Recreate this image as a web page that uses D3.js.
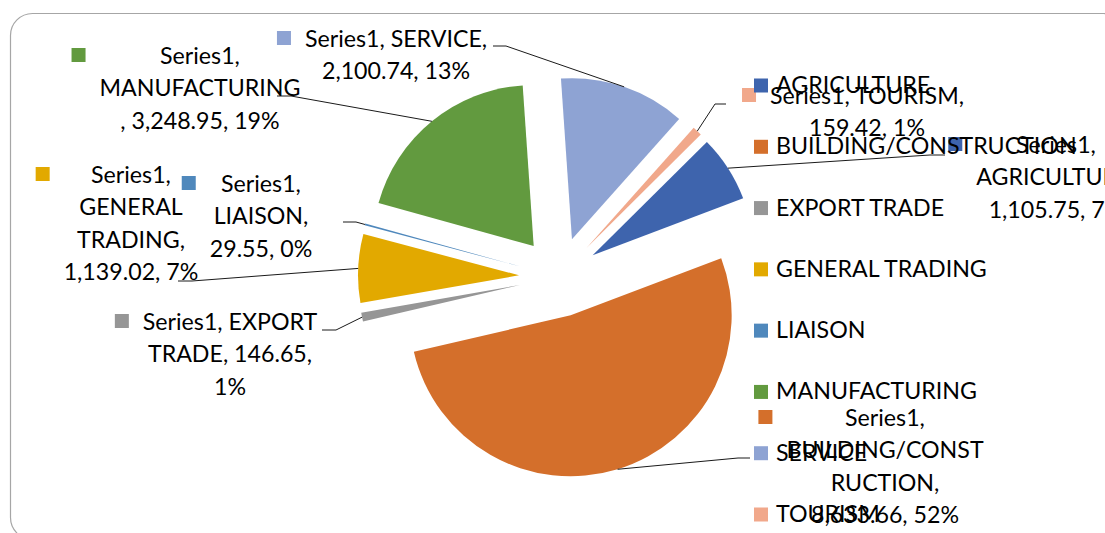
<!DOCTYPE html>
<html lang="en">
<head>
    <meta charset="UTF-8">
    <title>Pie</title>
    <script src="https://d3js.org/d3.v7.min.js"></script>
    <style>
        body { margin: 0; background: #fff; }
        text { font-family: Lato, "Open Sans", sans-serif; font-size: 23.2px; fill: #000; }
    </style>
</head>
<body>
<script>
    const width = 1105;
    const height = 533;

    const seriesName = "Series1";
    const categories = ["AGRICULTURE", "BUILDING/CONSTRUCTION", "EXPORT TRADE", "GENERAL TRADING",
                        "LIAISON", "MANUFACTURING", "SERVICE", "TOURISM"];
    const values = [1105.75, 8633.66, 146.65, 1139.02, 29.55, 3248.95, 2100.74, 159.42];
    const shares = [7, 52, 1, 7, 0, 19, 13, 1];   // percentages as printed on the chart
    const colors = ["#3e64ad", "#d46f2b", "#969696", "#e2a900", "#4f88bc", "#629a3f", "#8ea3d3", "#f1a88b"];

    // where each data label sits, where its text wraps, and where its leader line goes
    const labelLayout = [
        {cx: 1056, y: 153, breaks: [8, 21],      leader: [[930, 155], [945, 155]]},
        {cx: 885,  y: 426, breaks: [8, 23, 31],  leader: [[738, 458], [750, 458]]},
        {cx: 230,  y: 330, breaks: [15, 30],     leader: [[336, 330], [322, 330]]},
        {cx: 131,  y: 183, breaks: [8, 16, 25],  leader: [[192, 281], [178, 281]]},
        {cx: 261,  y: 192, breaks: [8, 17],      leader: [[356, 222], [343, 222]]},
        {cx: 200,  y: 64,  breaks: [8, 22],      leader: [[291, 96], [277, 96]]},
        {cx: 396,  y: 47,  breaks: [17],         leader: [[506, 46], [493, 46]]},
        {cx: 867,  y: 104, breaks: [17],         leader: [[715, 104], [726, 104]]}
    ];

    const center = [559, 277];
    const radius = 161;
    const explode = 40;
    const startAngle = 45.2 * Math.PI / 180;
    const lineHeight = 32.3;

    const svg = d3.select("body").append("svg")
            .attr("width", width).attr("height", height);

    // chart area frame (runs off the right and bottom edge)
    svg.append("rect")
        .attr("x", 10.5).attr("y", 13.5)
        .attr("width", 1115).attr("height", 526)
        .attr("rx", 22).attr("ry", 22)
        .attr("fill", "#fff")
        .attr("stroke", "#a6a6a6").attr("stroke-width", 1.2);

    const data = categories.map((c, i) => ({name: c, value: values[i], share: shares[i], color: colors[i], layout: labelLayout[i]}));

    const pie = d3.pie().sort(null).value(d => d.value)
        .startAngle(startAngle).endAngle(startAngle + 2 * Math.PI);
    const arc = d3.arc().innerRadius(0).outerRadius(radius);
    const arcs = pie(data);

    const dir = a => [Math.sin(a), -Math.cos(a)];
    const mid = d => (d.startAngle + d.endAngle) / 2;

    const g = svg.append("g").attr("transform", `translate(${center[0]},${center[1]})`);

    g.selectAll("path.slice")
        .data(arcs)
        .enter()
        .append("path")
        .attr("class", "slice")
        .attr("transform", d => {
            const [dx, dy] = dir(mid(d));
            return `translate(${dx * explode},${dy * explode})`;
        })
        .attr("d", arc)
        .attr("fill", d => d.data.color);

    // leader lines from the middle of each slice's rim
    const line = d3.line();
    svg.selectAll("path.leader")
        .data(arcs)
        .enter()
        .append("path")
        .attr("class", "leader")
        .attr("d", d => {
            const [dx, dy] = dir(mid(d));
            const start = [center[0] + dx * (explode + radius), center[1] + dy * (explode + radius)];
            return line([start].concat(d.data.layout.leader));
        })
        .attr("fill", "none")
        .attr("stroke", "#1a1a1a")
        .attr("stroke-width", 1);

    const fmt = d3.format(",.2f");

    function splitLabel(str, breaks) {
        const cuts = [0].concat(breaks, [str.length]);
        const out = [];
        for (let i = 0; i < cuts.length - 1; i++) out.push(str.slice(cuts[i], cuts[i + 1]).trim());
        return out;
    }

    // data labels
    const labels = svg.selectAll("g.label")
        .data(data)
        .enter()
        .append("g")
        .attr("class", "label");

    labels.each(function(d) {
        const el = d3.select(this);
        const full = `${seriesName}, ${d.name}, ${fmt(d.value)}, ${d.share}%`;
        const lines = splitLabel(full, d.layout.breaks);
        const t = el.append("text").attr("text-anchor", "middle");
        lines.forEach((s, i) => {
            t.append("tspan").attr("x", d.layout.cx).attr("y", d.layout.y + i * lineHeight).text(s);
        });
        let maxW = 0;
        t.selectAll("tspan").each(function() { maxW = Math.max(maxW, this.getComputedTextLength()); });
        el.insert("rect", "text")
            .attr("x", d.layout.cx - maxW / 2 - 28).attr("y", d.layout.y - 16)
            .attr("width", 14).attr("height", 14)
            .attr("fill", d.color);
    });

    // legend
    const legendY = d3.scaleLinear().domain([0, categories.length - 1]).range([93, 522]);
    const legend = svg.selectAll("g.legend")
        .data(data)
        .enter()
        .append("g")
        .attr("class", "legend")
        .attr("transform", (d, i) => `translate(754,${legendY(i)})`);
    legend.append("rect")
        .attr("x", 0).attr("y", -14.5)
        .attr("width", 14).attr("height", 14)
        .attr("fill", d => d.color);
    legend.append("text")
        .attr("x", 22).attr("y", 0)
        .text(d => d.name);
</script>
</body>
</html>
